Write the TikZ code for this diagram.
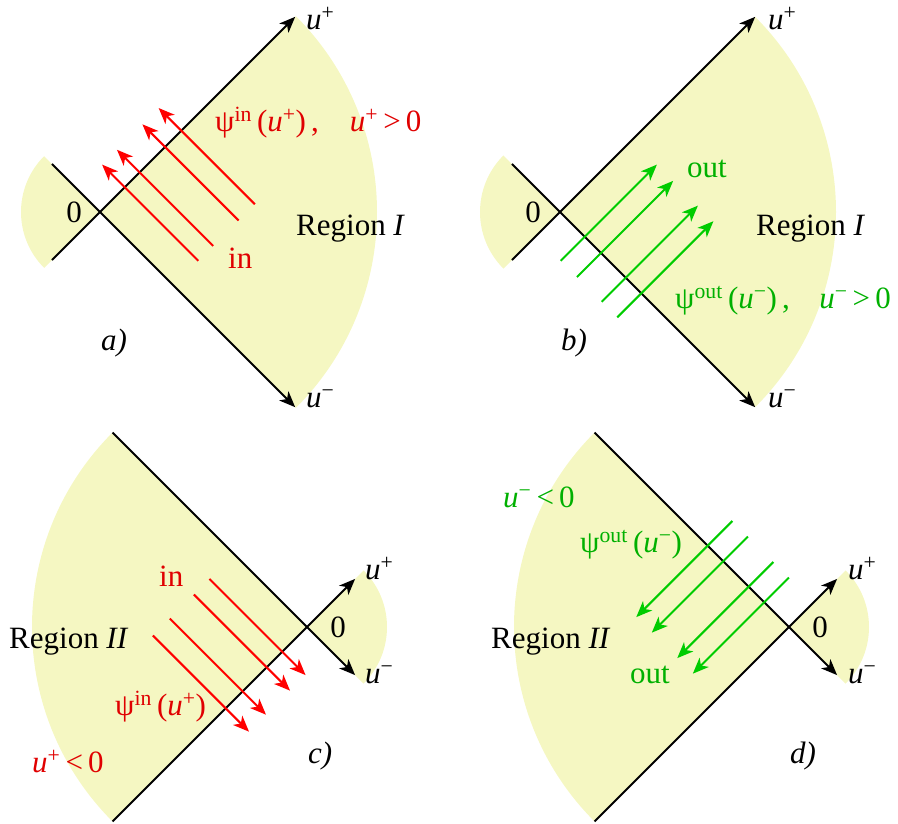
\documentclass[tikz,border=0pt]{standalone}
\usepackage{fontspec}
\setmainfont{Liberation Serif}
\usetikzlibrary{arrows.meta}
\definecolor{fillyel}{RGB}{245,247,194}
\definecolor{arred}{RGB}{255,0,0}
\definecolor{txred}{RGB}{224,0,0}
\definecolor{argreen}{RGB}{0,204,0}
\definecolor{txgreen}{RGB}{0,176,0}
\newcommand\upl{\textit{u}\textsuperscript{+}}
\newcommand\umi{\textit{u}\textsuperscript{−}}
\tikzset{
  region/.style={fill=fillyel, draw=none},
  axis/.style={line width=1.8pt, black, -{Stealth[length=16pt,width=13pt,inset=4.5pt]}},
  wavered/.style={arred, line width=2pt, -{Stealth[length=16pt,width=13pt,inset=4.5pt]}},
  wavegreen/.style={argreen, line width=2pt, -{Stealth[length=16pt,width=13pt,inset=4.5pt]}},
  lbl/.style={inner sep=0pt, anchor=base west, font=\fontsize{31}{36}\selectfont},
}
\begin{document}
\begin{tikzpicture}[x=1pt,y=-1pt]
\useasboundingbox (0,0) rectangle (898,823);
\def\s{0.7071}
% ---------------- panel a ----------------
\begin{scope}[shift={(100,212)}]
  \fill[region] (0,0) -- (-45:277) arc[start angle=-45,end angle=45,radius=277] -- cycle;
  \fill[region] (0,0) -- (135:79) arc[start angle=135,end angle=225,radius=79] -- cycle;
  \coordinate (aP) at (-45:276);
  \coordinate (aM) at (45:276);
  \coordinate (aPs) at (135:68);
  \coordinate (aMs) at (225:68);
  \draw[axis] (aPs) -- (aP);
  \draw[axis] (aMs) -- (aM);
  \foreach \a in {35,56,92,115}
    \draw[wavered] ({(\a+104)*\s},{(104-\a)*\s}) -- ({(\a-32)*\s},{(-32-\a)*\s});
\end{scope}
\node[lbl, anchor=center] (a0) at (74,212) {0};
\node[lbl] (aup) at (306,29) {\upl};
\node[lbl] (aum) at (306,407) {\umi};
\node[lbl, txred] (apsi) at (215,131) {ψ\textsuperscript{in}\,(\upl)\,,\hspace{1em}\upl\,>\,0};
\node[lbl, txred] (ain) at (228,268) {in};
\node[lbl] (areg) at (296,235) {Region \textit{I}};
\node[lbl] (alab) at (101,350) {\textit{a)}};
% ---------------- panel b ----------------
\begin{scope}[shift={(560,212)}]
  \fill[region] (0,0) -- (-45:276) arc[start angle=-45,end angle=45,radius=276] -- cycle;
  \fill[region] (0,0) -- (135:80) arc[start angle=135,end angle=225,radius=80] -- cycle;
  \coordinate (bP) at (-45:276);
  \coordinate (bM) at (45:276);
  \coordinate (bPs) at (135:68);
  \coordinate (bMs) at (225:68);
  \draw[axis] (bPs) -- (bP);
  \draw[axis] (bMs) -- (bM);
  \foreach \b in {35,58,93,115}
    \draw[wavegreen] ({(\b-34)*\s},{(\b+34)*\s}) -- ({(\b+102)*\s},{(\b-102)*\s});
\end{scope}
\node[lbl, anchor=center] (b0) at (533,212) {0};
\node[lbl] (bup) at (768,29) {\upl};
\node[lbl] (bum) at (768,407) {\umi};
\node[lbl, txgreen] (bout) at (687,177) {out};
\node[lbl] (breg) at (756,235) {Region \textit{I}};
\node[lbl, txgreen] (bpsi) at (675,308) {ψ\textsuperscript{out}\,(\umi)\,,\hspace{0.95em}\umi\,>\,0};
\node[lbl] (blab) at (561,350) {\textit{b)}};
% ---------------- panel c ----------------
\begin{scope}[shift={(307,627)}]
  \fill[region] (0,0) -- (135:275) arc[start angle=135,end angle=225,radius=275] -- cycle;
  \fill[region] (0,0) -- (-45:80) arc[start angle=-45,end angle=45,radius=80] -- cycle;
  \coordinate (cPl) at (135:275);
  \coordinate (cMl) at (225:275);
  \coordinate (cP) at (-45:68);
  \coordinate (cM) at (45:68);
  \draw[axis] (cPl) -- (cP);
  \draw[axis] (cMl) -- (cM);
  \foreach \a in {35,57,91,115}
    \draw[wavered] ({(-\a-103)*\s},{(\a-103)*\s}) -- ({(33-\a)*\s},{(33+\a)*\s});
\end{scope}
\node[lbl, anchor=center] (c0) at (338,627) {0};
\node[lbl] (cup) at (365,579) {\upl};
\node[lbl] (cum) at (365,683) {\umi};
\node[lbl, txred] (cin) at (159,586) {in};
\node[lbl] (creg) at (9,648) {Region \textit{II}};
\node[lbl, txred] (cpsi) at (115,715) {ψ\textsuperscript{in}\,(\upl)};
\node[lbl, txred] (cneg) at (32,772) {\upl\,<\,0};
\node[lbl] (clab) at (308,763) {\textit{c)}};
% ---------------- panel d ----------------
\begin{scope}[shift={(789,627)}]
  \fill[region] (0,0) -- (135:275) arc[start angle=135,end angle=225,radius=275] -- cycle;
  \fill[region] (0,0) -- (-45:80) arc[start angle=-45,end angle=45,radius=80] -- cycle;
  \coordinate (dPl) at (135:275);
  \coordinate (dMl) at (225:275);
  \coordinate (dP) at (-45:68);
  \coordinate (dM) at (45:68);
  \draw[axis] (dPl) -- (dP);
  \draw[axis] (dMl) -- (dM);
  \foreach \b in {35,57,93,115}
    \draw[wavegreen] ({(35-\b)*\s},{(-\b-35)*\s}) -- ({(-101-\b)*\s},{(101-\b)*\s});
\end{scope}
\node[lbl, anchor=center] (d0) at (820,627) {0};
\node[lbl] (dup) at (848,579) {\upl};
\node[lbl] (dum) at (848,683) {\umi};
\node[lbl, txgreen] (dneg) at (503,507) {\umi\,<\,0};
\node[lbl, txgreen] (dpsi) at (580,552) {ψ\textsuperscript{out}\,(\umi)};
\node[lbl] (dreg) at (491,648) {Region \textit{II}};
\node[lbl, txgreen] (dout) at (630,683) {out};
\node[lbl] (dlab) at (790,763) {\textit{d)}};
\end{tikzpicture}
\end{document}
